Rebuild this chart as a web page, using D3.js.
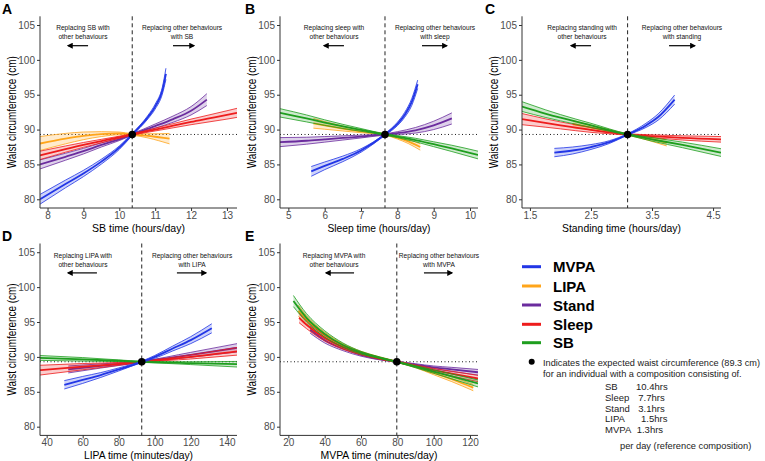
<!DOCTYPE html>
<html><head><meta charset="utf-8">
<script src="https://cdn.jsdelivr.net/npm/d3@7"></script>
<style>
body{margin:0;background:#fff}
svg{display:block}
text{font-family:"Liberation Sans",Arial,Helvetica,sans-serif}
</style>
</head><body>
<svg id="chart" width="765" height="461"></svg>
<script>
// ---------------- DATA ----------------
const yTicks = [80, 85, 90, 95, 100, 105];
const refWaist = 89.3;
const behaviours = ["MVPA", "LIPA", "Stand", "Sleep", "SB"];
const behaviourColors = ["#2236e6", "#ffa51a", "#6b2c9e", "#ee1c1c", "#1e9e1e"];

// Panel A: SB time (hours/day)
const A_xTicks = [8, 9, 10, 11, 12, 13];
const A_ref = 10.36;
const A_mvpa_x = [7.79, 8.5, 9.0, 9.5, 10.0, 10.36, 10.8, 11.0, 11.2, 11.3];
const A_mvpa_y = [80.0, 82.2, 83.7, 85.4, 87.4, 89.3, 91.8, 93.3, 95.6, 98.0];
const A_mvpa_ci = [0.7, 0.55, 0.45, 0.35, 0.25, 0.15, 0.25, 0.35, 0.5, 0.8];
const A_lipa_x = [7.79, 8.5, 9.0, 9.5, 10.0, 10.36, 10.8, 11.1, 11.4];
const A_lipa_y = [88.0, 88.7, 89.1, 89.35, 89.45, 89.3, 89.1, 88.9, 88.7];
const A_lipa_ci = [1.0, 0.75, 0.55, 0.35, 0.2, 0.12, 0.3, 0.5, 0.75];
const A_stand_x = [7.79, 8.5, 9.0, 9.5, 10.0, 10.36, 11.0, 11.5, 12.0, 12.44];
const A_stand_y = [85.0, 86.1, 86.9, 87.8, 88.6, 89.3, 90.5, 91.5, 92.7, 94.3];
const A_stand_ci = [0.65, 0.5, 0.4, 0.3, 0.18, 0.12, 0.3, 0.45, 0.6, 0.85];
const A_sleep_x = [7.79, 8.5, 9.0, 9.5, 10.0, 10.36, 11.0, 11.5, 12.0, 12.5, 13.0, 13.28];
const A_sleep_y = [86.3, 87.2, 87.8, 88.35, 88.9, 89.3, 90.0, 90.55, 91.1, 91.6, 92.1, 92.4];
const A_sleep_ci = [0.6, 0.45, 0.35, 0.25, 0.15, 0.1, 0.2, 0.3, 0.4, 0.5, 0.6, 0.65];

// Panel B: Sleep time (hours/day)
const B_xTicks = [5, 6, 7, 8, 9, 10];
const B_ref = 7.66;
const B_sb_x = [4.77, 5.5, 6.0, 6.5, 7.0, 7.66, 8.0, 8.5, 9.0, 9.5, 10.22];
const B_sb_y = [92.4, 91.6, 91.0, 90.45, 89.95, 89.3, 89.0, 88.5, 87.9, 87.3, 86.35];
const B_sb_ci = [0.6, 0.5, 0.4, 0.3, 0.2, 0.1, 0.15, 0.25, 0.35, 0.45, 0.55];
const B_lipa_x = [5.69, 6.0, 6.5, 7.0, 7.66, 8.0, 8.3, 8.63];
const B_lipa_y = [90.9, 90.6, 90.15, 89.75, 89.3, 88.85, 88.3, 87.5];
const B_lipa_ci = [0.7, 0.55, 0.35, 0.2, 0.1, 0.2, 0.3, 0.45];
const B_stand_x = [4.77, 5.5, 6.0, 6.5, 7.0, 7.66, 8.0, 8.5, 9.0, 9.5];
const B_stand_y = [88.2, 88.4, 88.6, 88.8, 89.0, 89.3, 89.5, 89.9, 90.6, 91.6];
const B_stand_ci = [0.65, 0.5, 0.4, 0.3, 0.2, 0.1, 0.2, 0.4, 0.6, 0.8];
const B_mvpa_x = [5.63, 6.0, 6.5, 7.0, 7.66, 8.0, 8.2, 8.4, 8.56];
const B_mvpa_y = [84.0, 84.8, 85.8, 87.0, 89.3, 90.8, 92.1, 94.0, 96.5];
const B_mvpa_ci = [0.7, 0.55, 0.4, 0.25, 0.12, 0.25, 0.35, 0.5, 0.6];

// Panel C: Standing time (hours/day)
const C_xTicks = [1.5, 2.5, 3.5, 4.5];
const C_ref = 3.1;
const C_sb_x = [1.37, 1.75, 2.0, 2.5, 3.1, 3.5, 4.0, 4.63];
const C_sb_y = [93.3, 92.3, 91.7, 90.6, 89.3, 88.6, 87.8, 86.7];
const C_sb_ci = [0.7, 0.55, 0.45, 0.3, 0.1, 0.25, 0.4, 0.55];
const C_sleep_x = [1.37, 1.75, 2.0, 2.5, 3.1, 3.5, 4.0, 4.63];
const C_sleep_y = [91.5, 90.95, 90.6, 89.95, 89.3, 89.05, 88.8, 88.6];
const C_sleep_ci = [0.8, 0.6, 0.5, 0.35, 0.1, 0.2, 0.3, 0.4];
const C_lipa_x = [2.2, 2.5, 2.8, 3.1, 3.4, 3.74];
const C_lipa_y = [90.8, 90.3, 89.8, 89.3, 88.8, 88.1];
const C_lipa_ci = [0.5, 0.35, 0.2, 0.1, 0.25, 0.45];
const C_mvpa_x = [1.9, 2.2, 2.5, 2.8, 3.1, 3.4, 3.6, 3.87];
const C_mvpa_y = [86.7, 87.0, 87.5, 88.2, 89.3, 90.6, 91.8, 94.3];
const C_mvpa_ci = [0.6, 0.5, 0.35, 0.2, 0.1, 0.3, 0.45, 0.65];

// Panel D: LIPA time (minutes/day)
const D_xTicks = [40, 60, 80, 100, 120, 140];
const D_ref = 92.8;
const D_sb_x = [36.3, 60, 80, 92.8, 120, 145.7];
const D_sb_y = [89.85, 89.65, 89.45, 89.3, 89.1, 88.95];
const D_sb_ci = [0.35, 0.25, 0.12, 0.08, 0.2, 0.4];
const D_sleep_x = [36.3, 60, 80, 92.8, 120, 145.7];
const D_sleep_y = [88.1, 88.6, 89.0, 89.3, 90.0, 90.8];
const D_sleep_ci = [0.7, 0.45, 0.2, 0.1, 0.3, 0.55];
const D_stand_x = [52, 70, 92.8, 120, 145.7];
const D_stand_y = [88.2, 88.7, 89.3, 90.3, 91.3];
const D_stand_ci = [0.5, 0.3, 0.1, 0.35, 0.6];
const D_mvpa_x = [49.8, 60, 70, 80, 92.8, 100, 110, 120, 131.7];
const D_mvpa_y = [86.0, 86.7, 87.4, 88.2, 89.3, 90.0, 91.2, 92.4, 94.1];
const D_mvpa_ci = [0.6, 0.5, 0.35, 0.22, 0.1, 0.2, 0.35, 0.5, 0.65];

// Panel E: MVPA time (minutes/day)
const E_xTicks = [20, 40, 60, 80, 100, 120];
const E_ref = 79.7;
const E_sb_x = [22.8, 30, 40, 50, 60, 70, 79.7, 90, 100, 110, 124.4];
const E_sb_y = [98.0, 95.6, 93.3, 91.7, 90.6, 89.9, 89.3, 88.6, 87.9, 87.2, 86.2];
const E_sb_ci = [0.8, 0.6, 0.45, 0.3, 0.2, 0.12, 0.08, 0.15, 0.25, 0.35, 0.5];
const E_lipa_x = [25.5, 30, 40, 50, 60, 70, 79.7, 90, 100, 110, 121.8];
const E_lipa_y = [96.6, 95.3, 93.1, 91.6, 90.6, 89.9, 89.3, 88.6, 87.7, 86.8, 85.6];
const E_lipa_ci = [0.8, 0.6, 0.45, 0.3, 0.2, 0.12, 0.08, 0.15, 0.25, 0.35, 0.45];
const E_sleep_x = [25.9, 30, 40, 50, 60, 70, 79.7, 90, 100, 110, 124.4];
const E_sleep_y = [95.6, 94.6, 92.7, 91.4, 90.5, 89.8, 89.3, 88.7, 88.1, 87.6, 86.9];
const E_sleep_ci = [0.7, 0.55, 0.4, 0.3, 0.2, 0.12, 0.08, 0.15, 0.25, 0.35, 0.45];
const E_stand_x = [32, 40, 50, 60, 70, 79.7, 90, 100, 110, 124.4];
const E_stand_y = [93.9, 92.4, 91.2, 90.3, 89.7, 89.3, 88.9, 88.5, 88.2, 87.8];
const E_stand_ci = [0.5, 0.4, 0.3, 0.2, 0.12, 0.08, 0.12, 0.2, 0.3, 0.4];

// Reference composition table
const compLabels = ["SB", "Sleep", "Stand", "LIPA", "MVPA"];
const compValues = ["10.4hrs", "7.7hrs", "3.1hrs", "1.5hrs", "1.3hrs"];

// ---------------- LAYOUT ----------------
const color = d3.scaleOrdinal().domain(behaviours).range(behaviourColors);
const ser = (key, x, y, ci) => ({key, pts: x.map((v, i) => ({x: v, y: y[i], c: ci[i]}))});

const panels = [
  {id: "A", box: [40, 237, 16.3, 208], xdom: [7.79, 13.28], ticks: A_xTicks, ref: A_ref,
   xlabel: "SB time (hours/day)", xlw: 93, letter: [2, 14],
   series: [ser("LIPA", A_lipa_x, A_lipa_y, A_lipa_ci), ser("Stand", A_stand_x, A_stand_y, A_stand_ci),
            ser("Sleep", A_sleep_x, A_sleep_y, A_sleep_ci), ser("MVPA", A_mvpa_x, A_mvpa_y, A_mvpa_ci)],
   ann: {l: ["Replacing SB with", "other behaviours"], lc: 0.218, la: [0.244, 0.142],
         r: ["Replacing other behaviours", "with SB"], rc: 0.721, ra: [0.675, 0.782]}},
  {id: "B", box: [280, 478, 16.3, 208], xdom: [4.77, 10.22], ticks: B_xTicks, ref: B_ref,
   xlabel: "Sleep time (hours/day)", xlw: 103, letter: [245, 14],
   series: [ser("LIPA", B_lipa_x, B_lipa_y, B_lipa_ci), ser("Stand", B_stand_x, B_stand_y, B_stand_ci),
            ser("SB", B_sb_x, B_sb_y, B_sb_ci), ser("MVPA", B_mvpa_x, B_mvpa_y, B_mvpa_ci)],
   ann: {l: ["Replacing sleep with", "other behaviours"], lc: 0.273, la: [0.323, 0.222],
         r: ["Replacing other behaviours", "with sleep"], rc: 0.783, ra: [0.717, 0.843]}},
  {id: "C", box: [522, 721, 16.3, 208], xdom: [1.37, 4.63], ticks: C_xTicks, ref: C_ref,
   xlabel: "Standing time (hours/day)", xlw: 119, letter: [485, 14],
   series: [ser("LIPA", C_lipa_x, C_lipa_y, C_lipa_ci), ser("Sleep", C_sleep_x, C_sleep_y, C_sleep_ci),
            ser("SB", C_sb_x, C_sb_y, C_sb_ci), ser("MVPA", C_mvpa_x, C_mvpa_y, C_mvpa_ci)],
   ann: {l: ["Replacing standing with", "other behaviours"], lc: 0.302, la: [0.347, 0.246],
         r: ["Replacing other behaviours", "with standing"], rc: 0.804, ra: [0.739, 0.869]}},
  {id: "D", box: [40, 237, 243.5, 435.4], xdom: [36.3, 145.7], ticks: D_xTicks, ref: D_ref,
   xlabel: "LIPA time (minutes/day)", xlw: 109, letter: [2, 241],
   series: [ser("Stand", D_stand_x, D_stand_y, D_stand_ci), ser("Sleep", D_sleep_x, D_sleep_y, D_sleep_ci),
            ser("SB", D_sb_x, D_sb_y, D_sb_ci), ser("MVPA", D_mvpa_x, D_mvpa_y, D_mvpa_ci)],
   ann: {l: ["Replacing LIPA with", "other behaviours"], lc: 0.218, la: [0.289, 0.142],
         r: ["Replacing other behaviours", "with LIPA"], rc: 0.772, ra: [0.695, 0.843]}},
  {id: "E", box: [280, 478, 243.5, 435.4], xdom: [15.4, 124.4], ticks: E_xTicks, ref: E_ref,
   xlabel: "MVPA time (minutes/day)", xlw: 117, letter: [245, 241],
   series: [ser("Stand", E_stand_x, E_stand_y, E_stand_ci), ser("LIPA", E_lipa_x, E_lipa_y, E_lipa_ci),
            ser("Sleep", E_sleep_x, E_sleep_y, E_sleep_ci), ser("SB", E_sb_x, E_sb_y, E_sb_ci)],
   ann: {l: ["Replacing MVPA with", "other behaviours"], lc: 0.273, la: [0.374, 0.232],
         r: ["Replacing other behaviours", "with MVPA"], rc: 0.803, ra: [0.727, 0.869]}}
];

const svg = d3.select("#chart");
svg.append("rect").attr("width", 765).attr("height", 461).attr("fill", "#fff");
const defs = svg.append("defs");
defs.append("marker").attr("id", "arrow").attr("viewBox", "0 0 10 10")
  .attr("refX", 8).attr("refY", 5).attr("markerWidth", 6).attr("markerHeight", 6)
  .attr("markerUnits", "userSpaceOnUse").attr("orient", "auto")
  .append("path").attr("d", "M0,0L10,5L0,10z").attr("fill", "#000");

panels.forEach(p => {
  const [l, r, t, b] = p.box;
  const x = d3.scaleLinear().domain(p.xdom).range([l, r]);
  const y = d3.scaleLinear().domain([78.75, 106.25]).range([b, t]);
  const g = svg.append("g");
  defs.append("clipPath").attr("id", "clip" + p.id)
    .append("rect").attr("x", l).attr("y", t).attr("width", r - l).attr("height", b - t);

  // panel letter
  svg.append("text").attr("x", p.letter[0]).attr("y", p.letter[1]).text(p.id)
    .attr("font-size", 14).attr("font-weight", "bold").attr("fill", "#000");

  const plot = g.append("g").attr("clip-path", `url(#clip${p.id})`);
  const area = d3.area().x(d => x(d.x)).y0(d => y(d.y - d.c)).y1(d => y(d.y + d.c)).curve(d3.curveMonotoneX);
  const mid = d3.line().x(d => x(d.x)).y(d => y(d.y)).curve(d3.curveMonotoneX);
  const lo = d3.line().x(d => x(d.x)).y(d => y(d.y - d.c)).curve(d3.curveMonotoneX);
  const hi = d3.line().x(d => x(d.x)).y(d => y(d.y + d.c)).curve(d3.curveMonotoneX);

  // dotted horizontal reference line
  plot.append("line").attr("x1", l).attr("x2", r).attr("y1", y(refWaist)).attr("y2", y(refWaist))
    .attr("stroke", "#000").attr("stroke-width", 0.9).attr("stroke-dasharray", "1,2.5");

  p.series.forEach(s => {
    const c = color(s.key);
    plot.append("path").attr("d", area(s.pts)).attr("fill", c).attr("fill-opacity", 0.22);
    plot.append("path").attr("d", lo(s.pts)).attr("fill", "none").attr("stroke", c).attr("stroke-width", 0.8);
    plot.append("path").attr("d", hi(s.pts)).attr("fill", "none").attr("stroke", c).attr("stroke-width", 0.8);
    plot.append("path").attr("d", mid(s.pts)).attr("fill", "none").attr("stroke", c).attr("stroke-width", 1.8);
  });

  // dashed vertical reference line
  g.append("line").attr("x1", x(p.ref)).attr("x2", x(p.ref)).attr("y1", t).attr("y2", b)
    .attr("stroke", "#222").attr("stroke-width", 1).attr("stroke-dasharray", "4,3");
  g.append("circle").attr("cx", x(p.ref)).attr("cy", y(refWaist)).attr("r", 3.8).attr("fill", "#000");

  // axes
  const ya = g.append("g").attr("transform", `translate(${l},0)`)
    .call(d3.axisLeft(y).tickValues(yTicks).tickSize(3).tickPadding(2));
  const xa = g.append("g").attr("transform", `translate(0,${b})`)
    .call(d3.axisBottom(x).tickValues(p.ticks).tickSize(3).tickPadding(1).tickFormat(d => String(d)));
  [ya, xa].forEach(a => {
    a.select(".domain").attr("stroke", "#333").attr("stroke-width", 1);
    a.selectAll(".tick line").attr("stroke", "#333");
    a.selectAll(".tick text").attr("fill", "#4d4d4d").attr("font-size", 10)
      .attr("font-family", "Liberation Sans, Arial, sans-serif");
  });
  ya.select(".domain").attr("d", `M0,${t}V${b}`);
  xa.select(".domain").attr("d", `M${l},0H${r}`);

  // axis titles
  g.append("text").attr("x", (l + r) / 2).attr("y", b + 24).attr("text-anchor", "middle")
    .attr("font-size", 11.5).attr("fill", "#000")
    .attr("textLength", p.xlw).attr("lengthAdjust", "spacingAndGlyphs").text(p.xlabel);
  g.append("text").attr("transform", `translate(${l - 24},${(t + b) / 2}) rotate(-90)`)
    .attr("text-anchor", "middle").attr("font-size", 12).attr("fill", "#000")
    .attr("textLength", 112).attr("lengthAdjust", "spacingAndGlyphs")
    .text("Waist circumference (cm)");

  // annotations
  const w = r - l;
  const ann = p.ann;
  [[ann.l, ann.lc, ann.la], [ann.r, ann.rc, ann.ra]].forEach(([lines, cx, arr]) => {
    lines.forEach((txt, i) => {
      g.append("text").attr("x", l + cx * w).attr("y", t + 14 + i * 9).attr("text-anchor", "middle")
        .attr("font-size", 6.6).attr("fill", "#111").text(txt);
    });
    g.append("line").attr("x1", l + arr[0] * w).attr("x2", l + arr[1] * w)
      .attr("y1", t + 29.4).attr("y2", t + 29.4).attr("stroke", "#000").attr("stroke-width", 1.2)
      .attr("marker-end", "url(#arrow)");
  });
});

// ---------------- LEGEND ----------------
const legY = [266.7, 286, 305, 324.3, 342.7];
const leg = svg.append("g");
behaviours.forEach((k, i) => {
  leg.append("line").attr("x1", 522).attr("x2", 541).attr("y1", legY[i]).attr("y2", legY[i])
    .attr("stroke", color(k)).attr("stroke-width", 3);
  leg.append("text").attr("x", 553).attr("y", legY[i] + 5.5).attr("font-size", 15)
    .attr("font-weight", "bold").attr("fill", "#000").text(k);
});

leg.append("circle").attr("cx", 531.7).attr("cy", 361.7).attr("r", 3).attr("fill", "#000");
leg.append("text").attr("x", 543).attr("y", 365.5).attr("font-size", 9.2).attr("fill", "#222")
  .text("Indicates the expected waist circumference (89.3 cm)");
leg.append("text").attr("x", 543).attr("y", 377).attr("font-size", 9.2).attr("fill", "#222")
  .text("for an individual with a composition consisting of.");
const valX = [636, 638.3, 638.3, 641, 636.7];
compLabels.forEach((lab, i) => {
  const yy = 390 + i * 10.8;
  leg.append("text").attr("x", 605).attr("y", yy).attr("font-size", 9.5).attr("fill", "#222").text(lab);
  leg.append("text").attr("x", valX[i]).attr("y", yy).attr("font-size", 9.5).attr("fill", "#222").text(compValues[i]);
});
leg.append("text").attr("x", 620).attr("y", 448.5).attr("font-size", 9.3).attr("fill", "#222")
  .text("per day (reference composition)");
</script>
</body></html>
